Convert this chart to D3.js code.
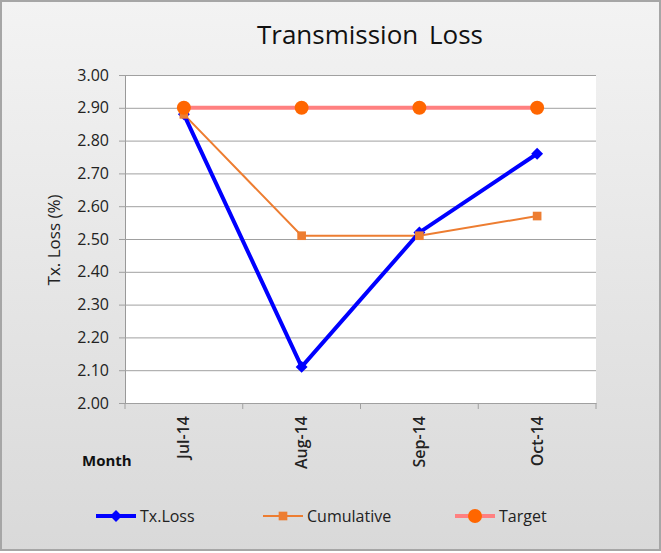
<!DOCTYPE html>
<html lang="en">
<head>
<meta charset="UTF-8">
<title>Transmission Loss</title>
<style>
    body { margin: 0; }
    .tick text { font-family: "Open Sans", sans-serif; }
</style>
</head>
<body>
<script src="https://d3js.org/d3.v7.min.js"></script>
<script>
    const months = ["Jul-14", "Aug-14", "Sep-14", "Oct-14"];
    const txLoss = [2.88, 2.11, 2.52, 2.76];
    const cumulative = [2.88, 2.51, 2.51, 2.57];
    const target = [2.90, 2.90, 2.90, 2.90];
    const yTicks = [2.00, 2.10, 2.20, 2.30, 2.40, 2.50, 2.60, 2.70, 2.80, 2.90, 3.00];

    const width = 661, height = 553;
    const font = "'Open Sans', sans-serif";

    const svg = d3.select("body").append("svg")
        .attr("width", width)
        .attr("height", height);

    const grad = svg.append("defs").append("linearGradient")
        .attr("id", "bg").attr("x1", 0).attr("y1", 0).attr("x2", 0).attr("y2", 1);
    grad.append("stop").attr("offset", "0%").attr("stop-color", "#f3f3f3");
    grad.append("stop").attr("offset", "100%").attr("stop-color", "#d9d9d9");

    svg.append("rect")
        .attr("x", 1).attr("y", 1)
        .attr("width", width - 2).attr("height", height - 4)
        .attr("fill", "url(#bg)")
        .attr("stroke", "#a6a6a6")
        .attr("stroke-width", 2);

    const x = d3.scaleBand().domain(months).range([125, 596]);
    const y = d3.scaleLinear().domain([2, 3]).range([403, 75]);

    svg.append("rect")
        .attr("x", 125).attr("y", 75)
        .attr("width", 471).attr("height", 328)
        .attr("fill", "#fff");

    // gridlines + y axis
    const yAxis = svg.append("g")
        .attr("transform", "translate(125,0)")
        .call(d3.axisLeft(y).tickValues(yTicks).tickFormat(d3.format(".2f"))
            .tickSize(-471).tickPadding(16));
    yAxis.select(".domain").attr("stroke", "#999");
    yAxis.selectAll(".tick line").attr("stroke", "#a0a0a0");
    yAxis.selectAll(".tick").append("line")
        .attr("x1", -6).attr("x2", 0).attr("stroke", "#a0a0a0");
    yAxis.selectAll(".tick text")
        .attr("font-size", 16).attr("fill", "#222");

    // x axis
    const xAxis = svg.append("g")
        .attr("transform", "translate(0,403)")
        .call(d3.axisBottom(x).tickSize(0).tickPadding(0));
    xAxis.select(".domain").attr("stroke", "#a0a0a0");
    xAxis.selectAll(".tick text")
        .attr("font-size", 16)
        .attr("font-weight", 600)
        .attr("fill", "#222")
        .attr("text-anchor", "end")
        .attr("transform", "rotate(-90)")
        .attr("x", -13).attr("y", 0).attr("dy", "0.35em");
    xAxis.selectAll(".boundary")
        .data(months.concat(["end"]))
        .enter().append("line")
        .attr("x1", (d, i) => i < months.length ? x(d) : x.range()[1])
        .attr("x2", (d, i) => i < months.length ? x(d) : x.range()[1])
        .attr("y1", 0).attr("y2", 6)
        .attr("stroke", "#a0a0a0");

    const cx = d => x(d) + x.bandwidth() / 2;

    const line = vals => d3.line()
        .x((d, i) => cx(months[i]))
        .y(d => y(d))(vals);

    // target
    svg.append("path").attr("d", line(target))
        .attr("fill", "none").attr("stroke", "#ff8080").attr("stroke-width", 4);
    // cumulative
    svg.append("path").attr("d", line(cumulative))
        .attr("fill", "none").attr("stroke", "#ed7d31").attr("stroke-width", 2);
    // tx loss
    svg.append("path").attr("d", line(txLoss))
        .attr("fill", "none").attr("stroke", "#0000ff").attr("stroke-width", 4);

    const diamond = d3.symbol().type(d3.symbolDiamond2).size(90);
    const square = d3.symbol().type(d3.symbolSquare).size(75);

    svg.append("g").selectAll("path")
        .data(txLoss).enter().append("path")
        .attr("d", diamond)
        .attr("transform", (d, i) => `translate(${cx(months[i])},${y(d)})`)
        .attr("fill", "#0000ff");

    svg.append("g").selectAll("path")
        .data(cumulative).enter().append("path")
        .attr("d", square)
        .attr("transform", (d, i) => `translate(${cx(months[i])},${y(d)})`)
        .attr("fill", "#ed7d31");

    svg.append("g").selectAll("circle")
        .data(target).enter().append("circle")
        .attr("cx", (d, i) => cx(months[i]))
        .attr("cy", d => y(d))
        .attr("r", 7)
        .attr("fill", "#ff6600");

    // title
    svg.append("text")
        .attr("x", 370).attr("y", 44)
        .attr("text-anchor", "middle")
        .attr("font-family", font)
        .attr("font-size", 26)
        .attr("word-spacing", 4)
        .attr("fill", "#111")
        .text("Transmission Loss");

    svg.append("text")
        .attr("transform", "translate(60,240) rotate(-90)")
        .attr("text-anchor", "middle")
        .attr("font-family", font)
        .attr("font-size", 17)
        .attr("fill", "#222")
        .text("Tx. Loss (%)");

    svg.append("text")
        .attr("x", 82).attr("y", 466)
        .attr("font-family", font)
        .attr("font-size", 15)
        .attr("font-weight", "bold")
        .attr("fill", "#111")
        .text("Month");

    // legend
    const legend = [
        { name: "Tx.Loss", color: "#0000ff", w: 4, x0: 96, mark: "diamond", mc: "#0000ff" },
        { name: "Cumulative", color: "#ed7d31", w: 2, x0: 263, mark: "square", mc: "#ed7d31" },
        { name: "Target", color: "#ff8080", w: 4, x0: 455, mark: "circle", mc: "#ff6600" }
    ];
    const lg = svg.append("g").selectAll("g")
        .data(legend).enter().append("g")
        .attr("transform", d => `translate(${d.x0},516)`);
    lg.append("line")
        .attr("x1", 0).attr("x2", 40)
        .attr("stroke", d => d.color).attr("stroke-width", d => d.w);
    lg.each(function(d) {
        const g = d3.select(this);
        if (d.mark === "circle") {
            g.append("circle").attr("cx", 20).attr("r", 7).attr("fill", d.mc);
        } else {
            g.append("path")
                .attr("d", d.mark === "diamond" ? diamond : square)
                .attr("transform", "translate(20,0)")
                .attr("fill", d.mc);
        }
    });
    lg.append("text")
        .attr("x", 44).attr("dy", "0.35em")
        .attr("font-family", font)
        .attr("font-size", 16)
        .attr("fill", "#222")
        .text(d => d.name);
</script>
</body>
</html>
